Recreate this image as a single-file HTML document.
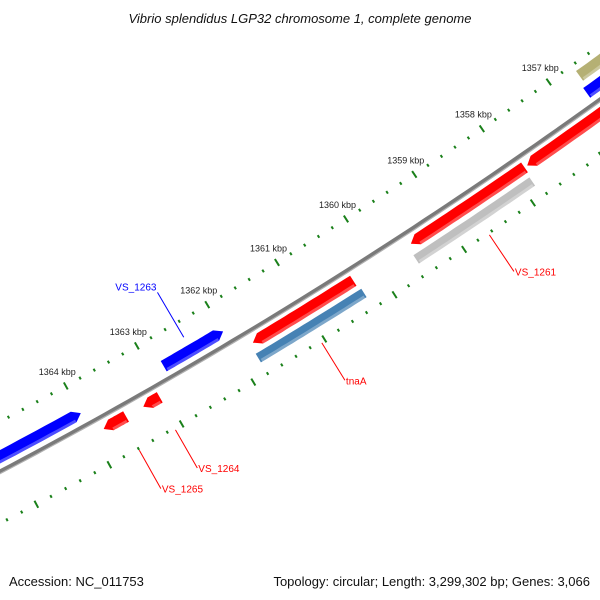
<!DOCTYPE html>
<html><head><meta charset="utf-8"><style>
html,body{margin:0;padding:0;background:#fff;}
svg{display:block;font-family:"Liberation Sans",sans-serif;}
</style></head><body>
<svg id="map" width="600" height="600" viewBox="0 0 600 600" xmlns="http://www.w3.org/2000/svg">
<rect width="600" height="600" fill="#fff"/>
<text x="300" y="23" text-anchor="middle" font-size="13" font-style="italic" fill="#111">Vibrio splendidus LGP32 chromosome 1, complete genome</text>
<g id="ticks"></g><g id="feats"></g><g id="labels"></g>
<text x="9" y="586" font-size="13" fill="#111">Accession: NC_011753</text>
<text x="590" y="586" text-anchor="end" font-size="13" fill="#111">Topology: circular; Length: 3,299,302 bp; Genes: 3,066</text>
</svg>
<script>
const featNames=["VS_1266","VS_1263","VS_1264","VS_1265","tnaA","tnaA-cog","VS_1261","VS_1261-cog","VS_1260","VS_1262-fwd","VS_1262-cog"];
const featStart=[1364.0,1362.0,1363.07,1363.54,1360.33,1360.3,1357.84,1357.86,1355.0,1355.0,1355.0];
const featEnd=[1366.5,1362.84,1363.3,1363.85,1361.76,1361.8,1359.5,1359.55,1357.8,1356.7,1356.65];
const featRing=[-13,-13,12,12,12,28,12,28,12,-13,-31];
const featColor=["#0000ff","#0000ff","#ff0000","#ff0000","#ff0000","#4682b4","#ff0000","#bfbfbf","#ff0000","#0000ff","#b5b074"];
const featStrand=[1,1,-1,-1,-1,0,-1,0,-1,1,0];
const tickMajor=[1357,1358,1359,1360,1361,1362,1363,1364];
const labelNames=["VS_1263","tnaA","VS_1261","VS_1264","VS_1265"];
const labelKbp=[1362.45,1361.05,1358.65,1363.1,1363.6];
const labelColor=["#0000ff","#ff0000","#ff0000","#ff0000","#ff0000"];

const NS="http://www.w3.org/2000/svg";
const CX=-2365,CY=-4012,R=5069;
const A0=54.56,DEG=0.93;
function ang(k){return (A0+(k-1357)*DEG)*Math.PI/180;}
function pt(k,r){const a=ang(k);return [CX+r*Math.cos(a),CY+r*Math.sin(a)];}
function arcPts(k1,k2,r,n){const p=[];for(let i=0;i<=n;i++){p.push(pt(k1+(k2-k1)*i/n,r));}return p;}
function mk(tag,attrs,parent){const e=document.createElementNS(NS,tag);for(const k in attrs)e.setAttribute(k,attrs[k]);parent.appendChild(e);return e;}
const P=a=>a.map(p=>p[0].toFixed(1)+","+p[1].toFixed(1)).join(" ");

const tg=document.getElementById("ticks");
// backbone
const bb=mk("polyline",{points:P(arcPts(1354,1367,R,80)),fill:"none",stroke:"#7a7a7a","stroke-width":4},tg);


const bb2=mk("polyline",{points:P(arcPts(1354,1367,R+2,80)),fill:"none",stroke:"#b0b0b0","stroke-width":1.2},tg);


// ruler ticks
[-44,46].forEach(function(rr){
  for(let i=0;i<=60;i++){
    const k=1355+i*0.2;
    const major=Math.abs(k-Math.round(k))<1e-6;
    const len=major?8:3;
    const a=pt(k,rr+R-len/2),b=pt(k,rr+R+len/2);
    const t=mk("line",{x1:a[0],y1:a[1],x2:b[0],y2:b[1],stroke:"#1a801a","stroke-width":2},tg);
    
    
  }
});
tickMajor.forEach(function(k){
  const p=pt(k,R-44);
  const t=mk("text",{x:p[0]+10,y:p[1]-11,"text-anchor":"end","font-size":"9",fill:"#222"},tg);
  t.textContent=k+" kbp";
  
  
});
// features
const fg=document.getElementById("feats");
featNames.forEach(function(nm,i){
  const s=featStart[i],e=featEnd[i],rc=R+featRing[i];
  const w=featRing[i]===28?10:12,h=w/2;
  const ah=0.1;
  let outer,inner;
  if(featStrand[i]===1){ // tip at start (smaller kbp)
    outer=arcPts(s+ah,e,rc-h,20);inner=arcPts(e,s+ah,rc+h,20);
    inner.push(pt(s,rc));
  }else if(featStrand[i]===-1){ // tip at end
    outer=arcPts(s,e-ah,rc-h,20);outer.push(pt(e,rc));
    inner=arcPts(e-ah,s,rc+h,20);
  }else{outer=arcPts(s,e,rc-h,20);inner=arcPts(e,s,rc+h,20);}
  const g=mk("g",{},fg);
  
  
  mk("polygon",{points:P(outer.concat(inner)),fill:featColor[i]},g);
  const hi=mk("polyline",{points:P(arcPts(s+(featStrand[i]===1?ah:0.02),e-(featStrand[i]===-1?ah:0.02),rc+h-1.5,20)),fill:"none",stroke:"#fff","stroke-opacity":0.3,"stroke-width":3},g);
  
  
});
// labels
const lg=document.getElementById("labels");
labelNames.forEach(function(nm,i){
  const up=labelColor[i]==="#0000ff";
  const k=labelKbp[i];
  let a,b;
  if(up){a=pt(k,R-28);b=pt(k,R-80);}else{a=pt(k,R+48);b=pt(k,R+92);}
  const ln=mk("line",{x1:a[0],y1:a[1],x2:b[0],y2:b[1],stroke:labelColor[i],"stroke-width":1},lg);
  
  
  const t=mk("text",{x:up?b[0]-1:b[0]+1,y:up?b[1]-2:b[1]+4,"text-anchor":up?"end":"start","font-size":"10",fill:labelColor[i]},lg);
  t.textContent=nm;
  
  
});
</script>
</body></html>
